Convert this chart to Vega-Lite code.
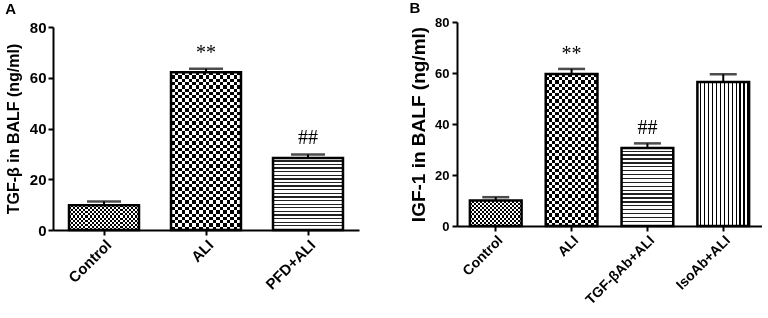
{
"$schema": "https://vega.github.io/schema/vega-lite/v6.json",
"background": "white",
"padding": {"left": 5, "top": 1, "right": 0, "bottom": 0},
"spacing": 50,
"config": {
  "view": {"stroke": null},
  "font": "Liberation Sans",
  "axis": {"domainColor": "black", "domainWidth": 2, "tickColor": "black", "tickWidth": 2, "tickSize": 5, "labelFont": "Liberation Sans", "labelFontWeight": "bold", "labelFontSize": 15, "labelColor": "black", "titleFont": "Liberation Sans", "titleFontWeight": "bold", "titleFontSize": 16, "titleColor": "black", "grid": false},
  "title": {"anchor": "start", "frame": "bounds", "font": "Liberation Sans", "fontSize": 15, "fontWeight": "bold", "color": "black"}
},
"datasets": {
  "a": [
    {"group": "Control", "value": 9.8, "err": 11.2, "sig": ""},
    {"group": "ALI", "value": 62.2, "err": 63.5, "sig": "**"},
    {"group": "PFD+ALI", "value": 28.4, "err": 29.8, "sig": "##"}
  ],
  "b": [
    {"group": "Control", "value": 10.0, "err": 11.3, "sig": ""},
    {"group": "ALI", "value": 59.6, "err": 61.6, "sig": "**"},
    {"group": "TGF-βAb+ALI", "value": 30.6, "err": 32.4, "sig": "##"},
    {"group": "IsoAb+ALI", "value": 56.5, "err": 59.5, "sig": ""}
  ]
},
"hconcat": [
{
  "title": {"text": "A", "offset": 3},
  "width": 306, "height": 208,
  "data": {"name": "a"},
  "encoding": {
    "x": {"field": "group", "type": "nominal", "sort": null, "scale": {"paddingInner": 0.314, "paddingOuter": 0.157}, "axis": {"title": null, "labelAngle": -45, "labelPadding": 2}},
    "y": {"field": "value", "type": "quantitative", "title": "TGF-β in BALF (ng/ml)", "scale": {"domain": [0, 80], "nice": false, "range": [208, 5]}, "axis": {"values": [0, 20, 40, 60, 80], "titlePadding": 8, "labelPadding": 2}}
  },
  "layer": [
    {"transform": [{"filter": "datum.group === 'Control'"}],
     "mark": {"type": "bar", "strokeWidth": 0, "fill": {"gradient": "linear", "x1": 0, "y1": 0, "x2": 0, "y2": 1, "stops": [{"offset":0.0833,"color":"#000"},{"offset":0.0833,"color":"#fff"},{"offset":0.1667,"color":"#fff"},{"offset":0.1667,"color":"#000"},{"offset":0.25,"color":"#000"},{"offset":0.25,"color":"#fff"},{"offset":0.3333,"color":"#fff"},{"offset":0.3333,"color":"#000"},{"offset":0.4167,"color":"#000"},{"offset":0.4167,"color":"#fff"},{"offset":0.5,"color":"#fff"},{"offset":0.5,"color":"#000"},{"offset":0.5833,"color":"#000"},{"offset":0.5833,"color":"#fff"},{"offset":0.6667,"color":"#fff"},{"offset":0.6667,"color":"#000"},{"offset":0.75,"color":"#000"},{"offset":0.75,"color":"#fff"},{"offset":0.8333,"color":"#fff"},{"offset":0.8333,"color":"#000"},{"offset":0.9167,"color":"#000"},{"offset":0.9167,"color":"#fff"}]}}},
    {"transform": [{"filter": "datum.group === 'Control'"}],
     "mark": {"type": "bar", "strokeWidth": 0, "blend": "difference", "fill": {"gradient": "linear", "x1": 0, "y1": 0, "x2": 1, "y2": 0, "stops": [{"offset":0.0294,"color":"#fff"},{"offset":0.0294,"color":"#000"},{"offset":0.0588,"color":"#000"},{"offset":0.0588,"color":"#fff"},{"offset":0.0882,"color":"#fff"},{"offset":0.0882,"color":"#000"},{"offset":0.1176,"color":"#000"},{"offset":0.1176,"color":"#fff"},{"offset":0.1471,"color":"#fff"},{"offset":0.1471,"color":"#000"},{"offset":0.1765,"color":"#000"},{"offset":0.1765,"color":"#fff"},{"offset":0.2059,"color":"#fff"},{"offset":0.2059,"color":"#000"},{"offset":0.2353,"color":"#000"},{"offset":0.2353,"color":"#fff"},{"offset":0.2647,"color":"#fff"},{"offset":0.2647,"color":"#000"},{"offset":0.2941,"color":"#000"},{"offset":0.2941,"color":"#fff"},{"offset":0.3235,"color":"#fff"},{"offset":0.3235,"color":"#000"},{"offset":0.3529,"color":"#000"},{"offset":0.3529,"color":"#fff"},{"offset":0.3824,"color":"#fff"},{"offset":0.3824,"color":"#000"},{"offset":0.4118,"color":"#000"},{"offset":0.4118,"color":"#fff"},{"offset":0.4412,"color":"#fff"},{"offset":0.4412,"color":"#000"},{"offset":0.4706,"color":"#000"},{"offset":0.4706,"color":"#fff"},{"offset":0.5,"color":"#fff"},{"offset":0.5,"color":"#000"},{"offset":0.5294,"color":"#000"},{"offset":0.5294,"color":"#fff"},{"offset":0.5588,"color":"#fff"},{"offset":0.5588,"color":"#000"},{"offset":0.5882,"color":"#000"},{"offset":0.5882,"color":"#fff"},{"offset":0.6176,"color":"#fff"},{"offset":0.6176,"color":"#000"},{"offset":0.6471,"color":"#000"},{"offset":0.6471,"color":"#fff"},{"offset":0.6765,"color":"#fff"},{"offset":0.6765,"color":"#000"},{"offset":0.7059,"color":"#000"},{"offset":0.7059,"color":"#fff"},{"offset":0.7353,"color":"#fff"},{"offset":0.7353,"color":"#000"},{"offset":0.7647,"color":"#000"},{"offset":0.7647,"color":"#fff"},{"offset":0.7941,"color":"#fff"},{"offset":0.7941,"color":"#000"},{"offset":0.8235,"color":"#000"},{"offset":0.8235,"color":"#fff"},{"offset":0.8529,"color":"#fff"},{"offset":0.8529,"color":"#000"},{"offset":0.8824,"color":"#000"},{"offset":0.8824,"color":"#fff"},{"offset":0.9118,"color":"#fff"},{"offset":0.9118,"color":"#000"},{"offset":0.9412,"color":"#000"},{"offset":0.9412,"color":"#fff"},{"offset":0.9706,"color":"#fff"},{"offset":0.9706,"color":"#000"}]}}},
    {"transform": [{"filter": "datum.group === 'ALI'"}],
     "mark": {"type": "bar", "strokeWidth": 0, "fill": {"gradient": "linear", "x1": 0, "y1": 0, "x2": 0, "y2": 1, "stops": [{"offset":0.0208,"color":"#000"},{"offset":0.0208,"color":"#fff"},{"offset":0.0417,"color":"#fff"},{"offset":0.0417,"color":"#000"},{"offset":0.0625,"color":"#000"},{"offset":0.0625,"color":"#fff"},{"offset":0.0833,"color":"#fff"},{"offset":0.0833,"color":"#000"},{"offset":0.1042,"color":"#000"},{"offset":0.1042,"color":"#fff"},{"offset":0.125,"color":"#fff"},{"offset":0.125,"color":"#000"},{"offset":0.1458,"color":"#000"},{"offset":0.1458,"color":"#fff"},{"offset":0.1667,"color":"#fff"},{"offset":0.1667,"color":"#000"},{"offset":0.1875,"color":"#000"},{"offset":0.1875,"color":"#fff"},{"offset":0.2083,"color":"#fff"},{"offset":0.2083,"color":"#000"},{"offset":0.2292,"color":"#000"},{"offset":0.2292,"color":"#fff"},{"offset":0.25,"color":"#fff"},{"offset":0.25,"color":"#000"},{"offset":0.2708,"color":"#000"},{"offset":0.2708,"color":"#fff"},{"offset":0.2917,"color":"#fff"},{"offset":0.2917,"color":"#000"},{"offset":0.3125,"color":"#000"},{"offset":0.3125,"color":"#fff"},{"offset":0.3333,"color":"#fff"},{"offset":0.3333,"color":"#000"},{"offset":0.3542,"color":"#000"},{"offset":0.3542,"color":"#fff"},{"offset":0.375,"color":"#fff"},{"offset":0.375,"color":"#000"},{"offset":0.3958,"color":"#000"},{"offset":0.3958,"color":"#fff"},{"offset":0.4167,"color":"#fff"},{"offset":0.4167,"color":"#000"},{"offset":0.4375,"color":"#000"},{"offset":0.4375,"color":"#fff"},{"offset":0.4583,"color":"#fff"},{"offset":0.4583,"color":"#000"},{"offset":0.4792,"color":"#000"},{"offset":0.4792,"color":"#fff"},{"offset":0.5,"color":"#fff"},{"offset":0.5,"color":"#000"},{"offset":0.5208,"color":"#000"},{"offset":0.5208,"color":"#fff"},{"offset":0.5417,"color":"#fff"},{"offset":0.5417,"color":"#000"},{"offset":0.5625,"color":"#000"},{"offset":0.5625,"color":"#fff"},{"offset":0.5833,"color":"#fff"},{"offset":0.5833,"color":"#000"},{"offset":0.6042,"color":"#000"},{"offset":0.6042,"color":"#fff"},{"offset":0.625,"color":"#fff"},{"offset":0.625,"color":"#000"},{"offset":0.6458,"color":"#000"},{"offset":0.6458,"color":"#fff"},{"offset":0.6667,"color":"#fff"},{"offset":0.6667,"color":"#000"},{"offset":0.6875,"color":"#000"},{"offset":0.6875,"color":"#fff"},{"offset":0.7083,"color":"#fff"},{"offset":0.7083,"color":"#000"},{"offset":0.7292,"color":"#000"},{"offset":0.7292,"color":"#fff"},{"offset":0.75,"color":"#fff"},{"offset":0.75,"color":"#000"},{"offset":0.7708,"color":"#000"},{"offset":0.7708,"color":"#fff"},{"offset":0.7917,"color":"#fff"},{"offset":0.7917,"color":"#000"},{"offset":0.8125,"color":"#000"},{"offset":0.8125,"color":"#fff"},{"offset":0.8333,"color":"#fff"},{"offset":0.8333,"color":"#000"},{"offset":0.8542,"color":"#000"},{"offset":0.8542,"color":"#fff"},{"offset":0.875,"color":"#fff"},{"offset":0.875,"color":"#000"},{"offset":0.8958,"color":"#000"},{"offset":0.8958,"color":"#fff"},{"offset":0.9167,"color":"#fff"},{"offset":0.9167,"color":"#000"},{"offset":0.9375,"color":"#000"},{"offset":0.9375,"color":"#fff"},{"offset":0.9583,"color":"#fff"},{"offset":0.9583,"color":"#000"},{"offset":0.9792,"color":"#000"},{"offset":0.9792,"color":"#fff"}]}}},
    {"transform": [{"filter": "datum.group === 'ALI'"}],
     "mark": {"type": "bar", "strokeWidth": 0, "blend": "difference", "fill": {"gradient": "linear", "x1": 0, "y1": 0, "x2": 1, "y2": 0, "stops": [{"offset":0.05,"color":"#fff"},{"offset":0.05,"color":"#000"},{"offset":0.1,"color":"#000"},{"offset":0.1,"color":"#fff"},{"offset":0.15,"color":"#fff"},{"offset":0.15,"color":"#000"},{"offset":0.2,"color":"#000"},{"offset":0.2,"color":"#fff"},{"offset":0.25,"color":"#fff"},{"offset":0.25,"color":"#000"},{"offset":0.3,"color":"#000"},{"offset":0.3,"color":"#fff"},{"offset":0.35,"color":"#fff"},{"offset":0.35,"color":"#000"},{"offset":0.4,"color":"#000"},{"offset":0.4,"color":"#fff"},{"offset":0.45,"color":"#fff"},{"offset":0.45,"color":"#000"},{"offset":0.5,"color":"#000"},{"offset":0.5,"color":"#fff"},{"offset":0.55,"color":"#fff"},{"offset":0.55,"color":"#000"},{"offset":0.6,"color":"#000"},{"offset":0.6,"color":"#fff"},{"offset":0.65,"color":"#fff"},{"offset":0.65,"color":"#000"},{"offset":0.7,"color":"#000"},{"offset":0.7,"color":"#fff"},{"offset":0.75,"color":"#fff"},{"offset":0.75,"color":"#000"},{"offset":0.8,"color":"#000"},{"offset":0.8,"color":"#fff"},{"offset":0.85,"color":"#fff"},{"offset":0.85,"color":"#000"},{"offset":0.9,"color":"#000"},{"offset":0.9,"color":"#fff"},{"offset":0.95,"color":"#fff"},{"offset":0.95,"color":"#000"}]}}},
    {"transform": [{"filter": "datum.group === 'PFD+ALI'"}],
     "mark": {"type": "bar", "strokeWidth": 0, "fill": {"gradient": "linear", "x1": 0, "y1": 0, "x2": 0, "y2": 1, "stops": [{"offset":0.0325,"color":"#fff"},{"offset":0.0325,"color":"#222"},{"offset":0.05,"color":"#222"},{"offset":0.05,"color":"#fff"},{"offset":0.0825,"color":"#fff"},{"offset":0.0825,"color":"#222"},{"offset":0.1,"color":"#222"},{"offset":0.1,"color":"#fff"},{"offset":0.1325,"color":"#fff"},{"offset":0.1325,"color":"#222"},{"offset":0.15,"color":"#222"},{"offset":0.15,"color":"#fff"},{"offset":0.1825,"color":"#fff"},{"offset":0.1825,"color":"#222"},{"offset":0.2,"color":"#222"},{"offset":0.2,"color":"#fff"},{"offset":0.2325,"color":"#fff"},{"offset":0.2325,"color":"#222"},{"offset":0.25,"color":"#222"},{"offset":0.25,"color":"#fff"},{"offset":0.2825,"color":"#fff"},{"offset":0.2825,"color":"#222"},{"offset":0.3,"color":"#222"},{"offset":0.3,"color":"#fff"},{"offset":0.3325,"color":"#fff"},{"offset":0.3325,"color":"#222"},{"offset":0.35,"color":"#222"},{"offset":0.35,"color":"#fff"},{"offset":0.3825,"color":"#fff"},{"offset":0.3825,"color":"#222"},{"offset":0.4,"color":"#222"},{"offset":0.4,"color":"#fff"},{"offset":0.4325,"color":"#fff"},{"offset":0.4325,"color":"#222"},{"offset":0.45,"color":"#222"},{"offset":0.45,"color":"#fff"},{"offset":0.4825,"color":"#fff"},{"offset":0.4825,"color":"#222"},{"offset":0.5,"color":"#222"},{"offset":0.5,"color":"#fff"},{"offset":0.5325,"color":"#fff"},{"offset":0.5325,"color":"#222"},{"offset":0.55,"color":"#222"},{"offset":0.55,"color":"#fff"},{"offset":0.5825,"color":"#fff"},{"offset":0.5825,"color":"#222"},{"offset":0.6,"color":"#222"},{"offset":0.6,"color":"#fff"},{"offset":0.6325,"color":"#fff"},{"offset":0.6325,"color":"#222"},{"offset":0.65,"color":"#222"},{"offset":0.65,"color":"#fff"},{"offset":0.6825,"color":"#fff"},{"offset":0.6825,"color":"#222"},{"offset":0.7,"color":"#222"},{"offset":0.7,"color":"#fff"},{"offset":0.7325,"color":"#fff"},{"offset":0.7325,"color":"#222"},{"offset":0.75,"color":"#222"},{"offset":0.75,"color":"#fff"},{"offset":0.7825,"color":"#fff"},{"offset":0.7825,"color":"#222"},{"offset":0.8,"color":"#222"},{"offset":0.8,"color":"#fff"},{"offset":0.8325,"color":"#fff"},{"offset":0.8325,"color":"#222"},{"offset":0.85,"color":"#222"},{"offset":0.85,"color":"#fff"},{"offset":0.8825,"color":"#fff"},{"offset":0.8825,"color":"#222"},{"offset":0.9,"color":"#222"},{"offset":0.9,"color":"#fff"},{"offset":0.9325,"color":"#fff"},{"offset":0.9325,"color":"#222"},{"offset":0.95,"color":"#222"},{"offset":0.95,"color":"#fff"},{"offset":0.9825,"color":"#fff"},{"offset":0.9825,"color":"#222"}]}}},
    {"mark": {"type": "bar", "fill": "transparent", "stroke": "black", "strokeWidth": 2.5}},
    {"mark": {"type": "rule", "color": "black", "strokeWidth": 2}, "encoding": {"y2": {"field": "err"}}},
    {"mark": {"type": "tick", "color": "black", "thickness": 2.5, "size": 34}, "encoding": {"y": {"field": "err", "type": "quantitative", "title": "TGF-β in BALF (ng/ml)"}}},
    {"mark": {"type": "text", "font": "Liberation Serif", "fontSize": 20, "baseline": "alphabetic", "dy": -10, "color": "black"}, "encoding": {"y": {"field": "err", "type": "quantitative", "title": "TGF-β in BALF (ng/ml)"}, "text": {"field": "sig"}}}
  ]
},
{
  "title": {"text": "B", "offset": 0},
  "width": 305, "height": 204,
  "data": {"name": "b"},
  "encoding": {
    "x": {"field": "group", "type": "nominal", "sort": null, "scale": {"paddingInner": 0.318, "paddingOuter": 0.17}, "axis": {"title": null, "labelAngle": -45, "labelPadding": 2, "labelFontSize": 14}},
    "y": {"field": "value", "type": "quantitative", "title": "IGF-1 in BALF (ng/ml)", "scale": {"domain": [0, 80], "nice": false}, "axis": {"values": [0, 20, 40, 60, 80], "titlePadding": 6, "labelPadding": 3, "labelFontSize": 13, "titleFontSize": 19}}
  },
  "layer": [
    {"transform": [{"filter": "datum.group === 'Control'"}],
     "mark": {"type": "bar", "strokeWidth": 0, "fill": {"gradient": "linear", "x1": 0, "y1": 0, "x2": 0, "y2": 1, "stops": [{"offset":0.0833,"color":"#000"},{"offset":0.0833,"color":"#fff"},{"offset":0.1667,"color":"#fff"},{"offset":0.1667,"color":"#000"},{"offset":0.25,"color":"#000"},{"offset":0.25,"color":"#fff"},{"offset":0.3333,"color":"#fff"},{"offset":0.3333,"color":"#000"},{"offset":0.4167,"color":"#000"},{"offset":0.4167,"color":"#fff"},{"offset":0.5,"color":"#fff"},{"offset":0.5,"color":"#000"},{"offset":0.5833,"color":"#000"},{"offset":0.5833,"color":"#fff"},{"offset":0.6667,"color":"#fff"},{"offset":0.6667,"color":"#000"},{"offset":0.75,"color":"#000"},{"offset":0.75,"color":"#fff"},{"offset":0.8333,"color":"#fff"},{"offset":0.8333,"color":"#000"},{"offset":0.9167,"color":"#000"},{"offset":0.9167,"color":"#fff"}]}}},
    {"transform": [{"filter": "datum.group === 'Control'"}],
     "mark": {"type": "bar", "strokeWidth": 0, "blend": "difference", "fill": {"gradient": "linear", "x1": 0, "y1": 0, "x2": 1, "y2": 0, "stops": [{"offset":0.0385,"color":"#fff"},{"offset":0.0385,"color":"#000"},{"offset":0.0769,"color":"#000"},{"offset":0.0769,"color":"#fff"},{"offset":0.1154,"color":"#fff"},{"offset":0.1154,"color":"#000"},{"offset":0.1538,"color":"#000"},{"offset":0.1538,"color":"#fff"},{"offset":0.1923,"color":"#fff"},{"offset":0.1923,"color":"#000"},{"offset":0.2308,"color":"#000"},{"offset":0.2308,"color":"#fff"},{"offset":0.2692,"color":"#fff"},{"offset":0.2692,"color":"#000"},{"offset":0.3077,"color":"#000"},{"offset":0.3077,"color":"#fff"},{"offset":0.3462,"color":"#fff"},{"offset":0.3462,"color":"#000"},{"offset":0.3846,"color":"#000"},{"offset":0.3846,"color":"#fff"},{"offset":0.4231,"color":"#fff"},{"offset":0.4231,"color":"#000"},{"offset":0.4615,"color":"#000"},{"offset":0.4615,"color":"#fff"},{"offset":0.5,"color":"#fff"},{"offset":0.5,"color":"#000"},{"offset":0.5385,"color":"#000"},{"offset":0.5385,"color":"#fff"},{"offset":0.5769,"color":"#fff"},{"offset":0.5769,"color":"#000"},{"offset":0.6154,"color":"#000"},{"offset":0.6154,"color":"#fff"},{"offset":0.6538,"color":"#fff"},{"offset":0.6538,"color":"#000"},{"offset":0.6923,"color":"#000"},{"offset":0.6923,"color":"#fff"},{"offset":0.7308,"color":"#fff"},{"offset":0.7308,"color":"#000"},{"offset":0.7692,"color":"#000"},{"offset":0.7692,"color":"#fff"},{"offset":0.8077,"color":"#fff"},{"offset":0.8077,"color":"#000"},{"offset":0.8462,"color":"#000"},{"offset":0.8462,"color":"#fff"},{"offset":0.8846,"color":"#fff"},{"offset":0.8846,"color":"#000"},{"offset":0.9231,"color":"#000"},{"offset":0.9231,"color":"#fff"},{"offset":0.9615,"color":"#fff"},{"offset":0.9615,"color":"#000"}]}}},
    {"transform": [{"filter": "datum.group === 'ALI'"}],
     "mark": {"type": "bar", "strokeWidth": 0, "fill": {"gradient": "linear", "x1": 0, "y1": 0, "x2": 0, "y2": 1, "stops": [{"offset":0.0208,"color":"#000"},{"offset":0.0208,"color":"#fff"},{"offset":0.0417,"color":"#fff"},{"offset":0.0417,"color":"#000"},{"offset":0.0625,"color":"#000"},{"offset":0.0625,"color":"#fff"},{"offset":0.0833,"color":"#fff"},{"offset":0.0833,"color":"#000"},{"offset":0.1042,"color":"#000"},{"offset":0.1042,"color":"#fff"},{"offset":0.125,"color":"#fff"},{"offset":0.125,"color":"#000"},{"offset":0.1458,"color":"#000"},{"offset":0.1458,"color":"#fff"},{"offset":0.1667,"color":"#fff"},{"offset":0.1667,"color":"#000"},{"offset":0.1875,"color":"#000"},{"offset":0.1875,"color":"#fff"},{"offset":0.2083,"color":"#fff"},{"offset":0.2083,"color":"#000"},{"offset":0.2292,"color":"#000"},{"offset":0.2292,"color":"#fff"},{"offset":0.25,"color":"#fff"},{"offset":0.25,"color":"#000"},{"offset":0.2708,"color":"#000"},{"offset":0.2708,"color":"#fff"},{"offset":0.2917,"color":"#fff"},{"offset":0.2917,"color":"#000"},{"offset":0.3125,"color":"#000"},{"offset":0.3125,"color":"#fff"},{"offset":0.3333,"color":"#fff"},{"offset":0.3333,"color":"#000"},{"offset":0.3542,"color":"#000"},{"offset":0.3542,"color":"#fff"},{"offset":0.375,"color":"#fff"},{"offset":0.375,"color":"#000"},{"offset":0.3958,"color":"#000"},{"offset":0.3958,"color":"#fff"},{"offset":0.4167,"color":"#fff"},{"offset":0.4167,"color":"#000"},{"offset":0.4375,"color":"#000"},{"offset":0.4375,"color":"#fff"},{"offset":0.4583,"color":"#fff"},{"offset":0.4583,"color":"#000"},{"offset":0.4792,"color":"#000"},{"offset":0.4792,"color":"#fff"},{"offset":0.5,"color":"#fff"},{"offset":0.5,"color":"#000"},{"offset":0.5208,"color":"#000"},{"offset":0.5208,"color":"#fff"},{"offset":0.5417,"color":"#fff"},{"offset":0.5417,"color":"#000"},{"offset":0.5625,"color":"#000"},{"offset":0.5625,"color":"#fff"},{"offset":0.5833,"color":"#fff"},{"offset":0.5833,"color":"#000"},{"offset":0.6042,"color":"#000"},{"offset":0.6042,"color":"#fff"},{"offset":0.625,"color":"#fff"},{"offset":0.625,"color":"#000"},{"offset":0.6458,"color":"#000"},{"offset":0.6458,"color":"#fff"},{"offset":0.6667,"color":"#fff"},{"offset":0.6667,"color":"#000"},{"offset":0.6875,"color":"#000"},{"offset":0.6875,"color":"#fff"},{"offset":0.7083,"color":"#fff"},{"offset":0.7083,"color":"#000"},{"offset":0.7292,"color":"#000"},{"offset":0.7292,"color":"#fff"},{"offset":0.75,"color":"#fff"},{"offset":0.75,"color":"#000"},{"offset":0.7708,"color":"#000"},{"offset":0.7708,"color":"#fff"},{"offset":0.7917,"color":"#fff"},{"offset":0.7917,"color":"#000"},{"offset":0.8125,"color":"#000"},{"offset":0.8125,"color":"#fff"},{"offset":0.8333,"color":"#fff"},{"offset":0.8333,"color":"#000"},{"offset":0.8542,"color":"#000"},{"offset":0.8542,"color":"#fff"},{"offset":0.875,"color":"#fff"},{"offset":0.875,"color":"#000"},{"offset":0.8958,"color":"#000"},{"offset":0.8958,"color":"#fff"},{"offset":0.9167,"color":"#fff"},{"offset":0.9167,"color":"#000"},{"offset":0.9375,"color":"#000"},{"offset":0.9375,"color":"#fff"},{"offset":0.9583,"color":"#fff"},{"offset":0.9583,"color":"#000"},{"offset":0.9792,"color":"#000"},{"offset":0.9792,"color":"#fff"}]}}},
    {"transform": [{"filter": "datum.group === 'ALI'"}],
     "mark": {"type": "bar", "strokeWidth": 0, "blend": "difference", "fill": {"gradient": "linear", "x1": 0, "y1": 0, "x2": 1, "y2": 0, "stops": [{"offset":0.0625,"color":"#fff"},{"offset":0.0625,"color":"#000"},{"offset":0.125,"color":"#000"},{"offset":0.125,"color":"#fff"},{"offset":0.1875,"color":"#fff"},{"offset":0.1875,"color":"#000"},{"offset":0.25,"color":"#000"},{"offset":0.25,"color":"#fff"},{"offset":0.3125,"color":"#fff"},{"offset":0.3125,"color":"#000"},{"offset":0.375,"color":"#000"},{"offset":0.375,"color":"#fff"},{"offset":0.4375,"color":"#fff"},{"offset":0.4375,"color":"#000"},{"offset":0.5,"color":"#000"},{"offset":0.5,"color":"#fff"},{"offset":0.5625,"color":"#fff"},{"offset":0.5625,"color":"#000"},{"offset":0.625,"color":"#000"},{"offset":0.625,"color":"#fff"},{"offset":0.6875,"color":"#fff"},{"offset":0.6875,"color":"#000"},{"offset":0.75,"color":"#000"},{"offset":0.75,"color":"#fff"},{"offset":0.8125,"color":"#fff"},{"offset":0.8125,"color":"#000"},{"offset":0.875,"color":"#000"},{"offset":0.875,"color":"#fff"},{"offset":0.9375,"color":"#fff"},{"offset":0.9375,"color":"#000"}]}}},
    {"transform": [{"filter": "datum.group === 'TGF-βAb+ALI'"}],
     "mark": {"type": "bar", "strokeWidth": 0, "fill": {"gradient": "linear", "x1": 0, "y1": 0, "x2": 0, "y2": 1, "stops": [{"offset":0.0325,"color":"#fff"},{"offset":0.0325,"color":"#222"},{"offset":0.05,"color":"#222"},{"offset":0.05,"color":"#fff"},{"offset":0.0825,"color":"#fff"},{"offset":0.0825,"color":"#222"},{"offset":0.1,"color":"#222"},{"offset":0.1,"color":"#fff"},{"offset":0.1325,"color":"#fff"},{"offset":0.1325,"color":"#222"},{"offset":0.15,"color":"#222"},{"offset":0.15,"color":"#fff"},{"offset":0.1825,"color":"#fff"},{"offset":0.1825,"color":"#222"},{"offset":0.2,"color":"#222"},{"offset":0.2,"color":"#fff"},{"offset":0.2325,"color":"#fff"},{"offset":0.2325,"color":"#222"},{"offset":0.25,"color":"#222"},{"offset":0.25,"color":"#fff"},{"offset":0.2825,"color":"#fff"},{"offset":0.2825,"color":"#222"},{"offset":0.3,"color":"#222"},{"offset":0.3,"color":"#fff"},{"offset":0.3325,"color":"#fff"},{"offset":0.3325,"color":"#222"},{"offset":0.35,"color":"#222"},{"offset":0.35,"color":"#fff"},{"offset":0.3825,"color":"#fff"},{"offset":0.3825,"color":"#222"},{"offset":0.4,"color":"#222"},{"offset":0.4,"color":"#fff"},{"offset":0.4325,"color":"#fff"},{"offset":0.4325,"color":"#222"},{"offset":0.45,"color":"#222"},{"offset":0.45,"color":"#fff"},{"offset":0.4825,"color":"#fff"},{"offset":0.4825,"color":"#222"},{"offset":0.5,"color":"#222"},{"offset":0.5,"color":"#fff"},{"offset":0.5325,"color":"#fff"},{"offset":0.5325,"color":"#222"},{"offset":0.55,"color":"#222"},{"offset":0.55,"color":"#fff"},{"offset":0.5825,"color":"#fff"},{"offset":0.5825,"color":"#222"},{"offset":0.6,"color":"#222"},{"offset":0.6,"color":"#fff"},{"offset":0.6325,"color":"#fff"},{"offset":0.6325,"color":"#222"},{"offset":0.65,"color":"#222"},{"offset":0.65,"color":"#fff"},{"offset":0.6825,"color":"#fff"},{"offset":0.6825,"color":"#222"},{"offset":0.7,"color":"#222"},{"offset":0.7,"color":"#fff"},{"offset":0.7325,"color":"#fff"},{"offset":0.7325,"color":"#222"},{"offset":0.75,"color":"#222"},{"offset":0.75,"color":"#fff"},{"offset":0.7825,"color":"#fff"},{"offset":0.7825,"color":"#222"},{"offset":0.8,"color":"#222"},{"offset":0.8,"color":"#fff"},{"offset":0.8325,"color":"#fff"},{"offset":0.8325,"color":"#222"},{"offset":0.85,"color":"#222"},{"offset":0.85,"color":"#fff"},{"offset":0.8825,"color":"#fff"},{"offset":0.8825,"color":"#222"},{"offset":0.9,"color":"#222"},{"offset":0.9,"color":"#fff"},{"offset":0.9325,"color":"#fff"},{"offset":0.9325,"color":"#222"},{"offset":0.95,"color":"#222"},{"offset":0.95,"color":"#fff"},{"offset":0.9825,"color":"#fff"},{"offset":0.9825,"color":"#222"}]}}},
    {"transform": [{"filter": "datum.group === 'IsoAb+ALI'"}],
     "mark": {"type": "bar", "strokeWidth": 0, "fill": {"gradient": "linear", "x1": 0, "y1": 0, "x2": 1, "y2": 0, "stops": [{"offset":0.045,"color":"#fff"},{"offset":0.045,"color":"#000"},{"offset":0.0769,"color":"#000"},{"offset":0.0769,"color":"#fff"},{"offset":0.1219,"color":"#fff"},{"offset":0.1219,"color":"#000"},{"offset":0.1538,"color":"#000"},{"offset":0.1538,"color":"#fff"},{"offset":0.1988,"color":"#fff"},{"offset":0.1988,"color":"#000"},{"offset":0.2308,"color":"#000"},{"offset":0.2308,"color":"#fff"},{"offset":0.2758,"color":"#fff"},{"offset":0.2758,"color":"#000"},{"offset":0.3077,"color":"#000"},{"offset":0.3077,"color":"#fff"},{"offset":0.3527,"color":"#fff"},{"offset":0.3527,"color":"#000"},{"offset":0.3846,"color":"#000"},{"offset":0.3846,"color":"#fff"},{"offset":0.4296,"color":"#fff"},{"offset":0.4296,"color":"#000"},{"offset":0.4615,"color":"#000"},{"offset":0.4615,"color":"#fff"},{"offset":0.5065,"color":"#fff"},{"offset":0.5065,"color":"#000"},{"offset":0.5385,"color":"#000"},{"offset":0.5385,"color":"#fff"},{"offset":0.5835,"color":"#fff"},{"offset":0.5835,"color":"#000"},{"offset":0.6154,"color":"#000"},{"offset":0.6154,"color":"#fff"},{"offset":0.6604,"color":"#fff"},{"offset":0.6604,"color":"#000"},{"offset":0.6923,"color":"#000"},{"offset":0.6923,"color":"#fff"},{"offset":0.7373,"color":"#fff"},{"offset":0.7373,"color":"#000"},{"offset":0.7692,"color":"#000"},{"offset":0.7692,"color":"#fff"},{"offset":0.8142,"color":"#fff"},{"offset":0.8142,"color":"#000"},{"offset":0.8462,"color":"#000"},{"offset":0.8462,"color":"#fff"},{"offset":0.8912,"color":"#fff"},{"offset":0.8912,"color":"#000"},{"offset":0.9231,"color":"#000"},{"offset":0.9231,"color":"#fff"},{"offset":0.9681,"color":"#fff"},{"offset":0.9681,"color":"#000"}]}}},
    {"mark": {"type": "bar", "fill": "transparent", "stroke": "black", "strokeWidth": 2.5}},
    {"mark": {"type": "rule", "color": "black", "strokeWidth": 2}, "encoding": {"y2": {"field": "err"}}},
    {"mark": {"type": "tick", "color": "black", "thickness": 2.5, "size": 27}, "encoding": {"y": {"field": "err", "type": "quantitative", "title": "IGF-1 in BALF (ng/ml)"}}},
    {"mark": {"type": "text", "font": "Liberation Serif", "fontSize": 20, "baseline": "alphabetic", "dy": -9, "color": "black"}, "encoding": {"y": {"field": "err", "type": "quantitative", "title": "IGF-1 in BALF (ng/ml)"}, "text": {"field": "sig"}}}
  ]
}
]
}
